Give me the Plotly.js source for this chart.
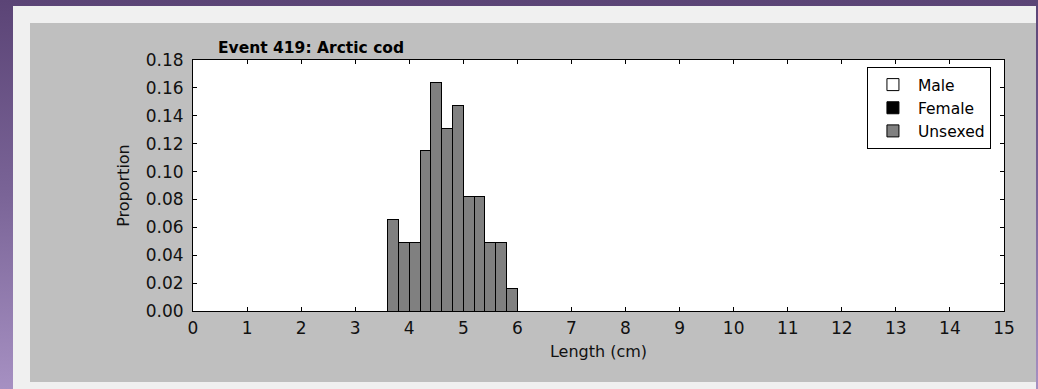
<!DOCTYPE html>
<html>
<head>
<meta charset="utf-8">
<script src="https://cdn.plot.ly/plotly-3.0.1.min.js"></script>
<style>
  html, body { margin: 0; padding: 0; width: 1038px; height: 389px; overflow: hidden; }
  body { background: linear-gradient(to bottom, #5b4476 0%, #7a6497 50%, #a690c2 100%); position: relative; }
  #frame { position: absolute; left: 13px; top: 6px; width: 1023px; height: 400px; background: #f0f0f0; }
  #fig { position: absolute; left: 30px; top: 23px; width: 1006px; height: 359px; background: #bfbfbf; }
  #chart { position: absolute; left: 0; top: 0; width: 1038px; height: 389px; }
</style>
</head>
<body>
<div id="frame"></div>
<div id="fig"></div>
<div id="chart"></div>
<script>
// Histogram of lengths (cm), bin width 0.2 cm
const binStart = [3.6, 3.8, 4.0, 4.2, 4.4, 4.6, 4.8, 5.0, 5.2, 5.4, 5.6, 5.8];
const maleProportion    = [0, 0, 0, 0, 0, 0, 0, 0, 0, 0, 0, 0];
const femaleProportion  = [0, 0, 0, 0, 0, 0, 0, 0, 0, 0, 0, 0];
const unsexedProportion = [0.0656, 0.0492, 0.0492, 0.1148, 0.1639, 0.1311, 0.1475, 0.0820, 0.0820, 0.0492, 0.0492, 0.0164];
const binWidth = 0.2;
const xTickVals = [0,1,2,3,4,5,6,7,8,9,10,11,12,13,14,15];
const yTickVals = [0.00,0.02,0.04,0.06,0.08,0.10,0.12,0.14,0.16,0.18];

const FONT = 'DejaVu Sans, sans-serif';

function barTrace(name, values, fill) {
  return {
    type: 'bar', name: name, x: binStart, y: values,
    width: binWidth, offset: 0,
    marker: { color: fill, line: { color: '#000000', width: 1 } },
    hoverinfo: 'x+y+name'
  };
}

const data = [
  barTrace('Male', maleProportion, '#ffffff'),
  barTrace('Female', femaleProportion, '#000000'),
  barTrace('Unsexed', unsexedProportion, '#808080')
];

const axisCommon = {
  showgrid: false, zeroline: false,
  showline: true, linecolor: '#000000', linewidth: 1, mirror: 'ticks',
  ticks: 'inside', ticklen: 4, tickwidth: 1, tickcolor: '#000000',
  tickfont: { family: FONT, size: 17, color: '#111111' },
  automargin: true,
  fixedrange: true
};

const layout = {
  width: 1038, height: 389,
  margin: { l: 193, r: 34, t: 60, b: 78, pad: 0 },
  paper_bgcolor: 'rgba(0,0,0,0)',
  plot_bgcolor: '#ffffff',
  barmode: 'stack',
  bargap: 0,
  showlegend: true,
  title: {
    text: '<b>Event 419: Arctic cod</b>',
    font: { family: FONT, size: 15.5, color: '#000000' },
    xref: 'container', yref: 'container',
    x: 218 / 1038, xanchor: 'left',
    y: 1 - 48 / 389, yanchor: 'middle'
  },
  xaxis: Object.assign({}, axisCommon, {
    range: [0, 15], tickmode: 'array', tickvals: xTickVals,
    ticktext: xTickVals.map(String),
    ticklabelstandoff: 2,
    title: { text: 'Length (cm)', font: { family: FONT, size: 16, color: '#111111' }, standoff: 8 }
  }),
  yaxis: Object.assign({}, axisCommon, {
    range: [0, 0.18], tickmode: 'array', tickvals: yTickVals,
    ticktext: yTickVals.map(v => v.toFixed(2)),
    ticklabelstandoff: 5,
    title: { text: 'Proportion', font: { family: FONT, size: 16, color: '#111111' }, standoff: 12 }
  }),
  legend: {
    x: 0.831, y: 0.972, xanchor: 'left', yanchor: 'top',
    bgcolor: '#ffffff', bordercolor: '#000000', borderwidth: 1,
    font: { family: FONT, size: 15.5, color: '#000000' },
    traceorder: 'normal', itemwidth: 40,
    tracegroupgap: 0
  }
};

Plotly.newPlot('chart', data, layout, { displayModeBar: false, staticPlot: true });
</script>
</body>
</html>
